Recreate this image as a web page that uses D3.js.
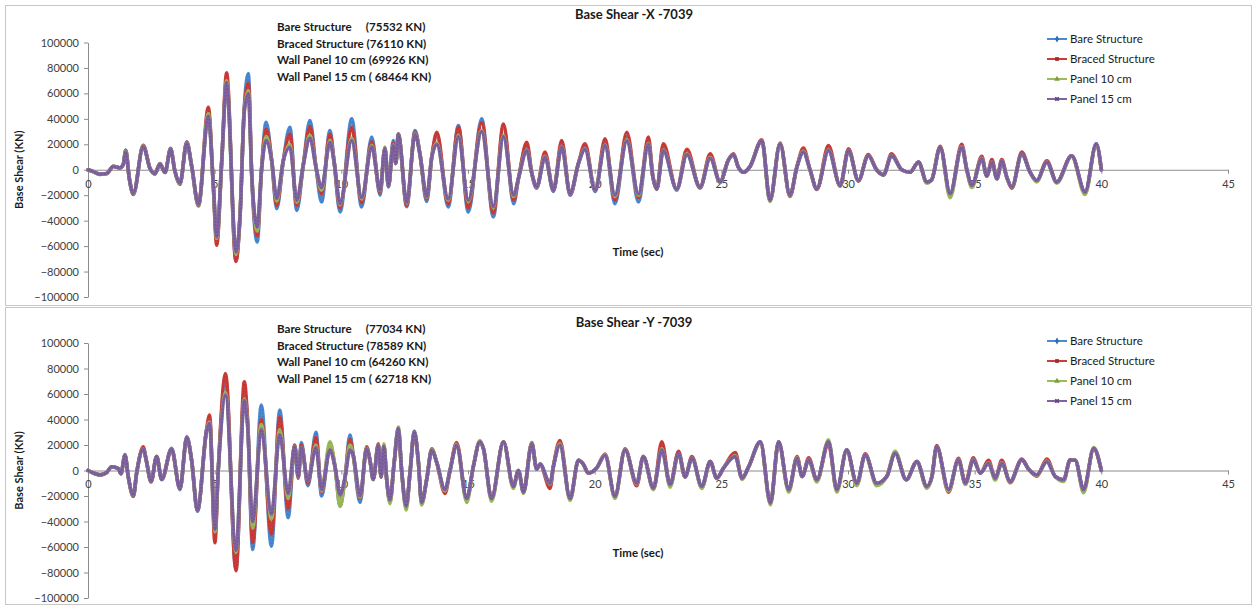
<!DOCTYPE html>
<html>
<head>
<meta charset="utf-8">
<script src="https://cdn.jsdelivr.net/npm/d3@7"></script>
<style>
  html, body { margin: 0; padding: 0; background: #fff; }
  svg { display: block; font-family: Lato, "Liberation Sans", sans-serif; }
  .note { white-space: pre; }
</style>
</head>
<body>
<script>
// ---- Base shear time histories, record 7039 (time in sec, shear in KN) ----

const seriesNames = ["Bare Structure", "Braced Structure", "Panel 10 cm", "Panel 15 cm"];
const seriesColors = ["#4a8ad0", "#cc3d3a", "#9bbb59", "#8064a2"];
const markerColors = ["#2f6db5", "#a52a28", "#7f9c40", "#5f4680"];
const xTicks = [0, 5, 10, 15, 20, 25, 30, 35, 40, 45];
const yTicks = [-100000, -80000, -60000, -40000, -20000, 0, 20000, 40000, 60000, 80000, 100000];

// X direction
const titleX = "Base Shear -X -7039";
const notesX = ["Bare Structure     (75532 KN)", "Braced Structure (76110 KN)",
                "Wall Panel 10 cm (69926 KN)", "Wall Panel 15 cm ( 68464 KN)"];
const timeX = [
  0, 0.21, 0.47, 0.74, 1.00, 1.26, 1.39, 1.49, 1.63, 1.79,
  2.18, 2.45, 2.64, 2.84, 3.04, 3.26, 3.43, 3.63, 3.90, 4.09,
  4.36, 4.75, 4.95, 5.08, 5.28, 5.47, 5.84, 6.00, 6.17, 6.33,
  6.46, 6.68, 6.85, 7.03, 7.25, 7.45, 7.71, 7.97, 8.24, 8.50,
  8.76, 9.00, 9.22, 9.55, 9.71, 9.95, 10.41, 10.80, 11.20, 11.53,
  11.72, 11.86, 12.05, 12.15, 12.25, 12.58, 12.91, 13.10, 13.37, 13.57,
  13.77, 14.22, 14.62, 15.01, 15.54, 16.00, 16.40, 16.80, 17.00, 17.32,
  17.52, 17.71, 18.04, 18.37, 18.70, 19.03, 19.36, 19.62, 20.02, 20.41,
  20.80, 21.27, 21.73, 22.12, 22.30, 22.45, 22.71, 23.24, 23.64, 24.16,
  24.56, 24.95, 25.28, 25.48, 25.67, 25.87, 26.13, 26.60, 26.92, 27.32,
  27.71, 27.98, 28.24, 28.50, 28.77, 29.23, 29.69, 30.02, 30.41, 30.80,
  31.13, 31.40, 31.72, 32.12, 32.45, 32.78, 33.11, 33.30, 33.64, 34.03,
  34.49, 34.69, 34.89, 35.28, 35.48, 35.68, 35.88, 36.07, 36.27, 36.47,
  36.86, 37.19, 37.45, 37.85, 38.24, 38.83, 39.36, 39.80, 40.00
];
const bareX = [
  0, -1500, -3600, -3000, 2800, 1500, 4200, 15500, -6500, -19500,
  19200, 800, -3500, 4800, -2200, 16800, -1000, -11500, 22000, 3000,
  -28500, 45000, -13600, -56000, 7300, 70000, -71000, -37000, 49000, 75532,
  -3000, -56700, 0, 37300, 7300, -30600, 7300, 33400, -32000, 4000,
  38600, 2000, -25400, 30800, 7000, -33200, 40000, -29300, 25600, -20000,
  17700, -13600, 23000, 5000, 28000, -29000, 30800, 12700, -25000, 10000,
  27000, -29300, 34700, -33200, 40000, -37000, 34000, -26700, -6000, 19000,
  -3000, -14500, 12000, -17000, 20000, -20000, 5000, 18000, -17000, 21000,
  -26700, 26000, -25400, 22000, -5800, -15500, 17000, -16000, 13000, -14500,
  10000, -10000, 7700, 12000, 2000, -2000, 2500, 23000, -24000, 20400,
  -20500, 2000, 14000, 0, -15000, 16000, -12300, 15000, -8400, 11000,
  0, -4000, 11000, 0, -2000, 6000, -9700, -8000, 17700, -19000,
  17700, 0, -12300, 8600, -5000, 6000, -7000, 7000, -6000, -13600,
  12500, -2000, -8400, 6000, -9700, 11000, -17500, 20400, 0
];
const bracedX = [
  0, -1500, -3500, -2900, 2700, 1600, 4000, 15000, -6800, -19300,
  19000, 1200, -3000, 4700, -2000, 16500, -1200, -11000, 21600, 3200,
  -28000, 49000, -14500, -59300, 6800, 76110, -72000, -36000, 48000, 68000,
  -2000, -52000, 500, 32000, 7500, -28000, 7000, 28000, -28000, 4000,
  34000, 2000, -18800, 28000, 7000, -30000, 33400, -26000, 22000, -18000,
  17000, -13000, 21000, 5000, 28000, -28000, 29500, 12700, -23000, 10000,
  29500, -27000, 33500, -30000, 37000, -34000, 36000, -24000, -6000, 21600,
  -3000, -14000, 14000, -16500, 23000, -19500, 5000, 20400, -16500, 24300,
  -24000, 29500, -22000, 25600, -5800, -15000, 20400, -15500, 16000, -14000,
  12500, -9500, 7700, 12500, 2000, -2000, 2500, 23500, -24500, 21000,
  -21000, 2000, 17000, 0, -15500, 19000, -13000, 16500, -9000, 12000,
  0, -4000, 12500, 0, -2000, 6000, -10000, -8000, 18500, -20000,
  20000, 0, -13000, 10500, -5000, 8000, -6500, 8000, -6000, -14500,
  14000, -2000, -9000, 7000, -9700, 11000, -18000, 19500, 0
];
const wall10X = [
  0, -1600, -3700, -3100, 2600, 1400, 4100, 14500, -6600, -18900,
  18600, 900, -3200, 4500, -2100, 16000, -1100, -10800, 21000, 2900,
  -27500, 44000, -13000, -54000, 7000, 69926, -66500, -36500, 47000, 62000,
  -2500, -48000, 0, 26000, 7300, -24500, 7000, 20000, -25500, 4000,
  27000, 2000, -16000, 23000, 7000, -27500, 25000, -23000, 19000, -16500,
  17000, -13000, 19500, 5000, 28000, -26500, 28500, 12700, -21500, 10000,
  21000, -24000, 27000, -25000, 31000, -30000, 27000, -21000, -6000, 15500,
  -3000, -13600, 10500, -16000, 18500, -18800, 5000, 16500, -16000, 19500,
  -21000, 23500, -20000, 20500, -5800, -15000, 15500, -15000, 12500, -13600,
  9500, -9500, 7700, 12000, 2000, -2000, 2500, 23000, -25000, 20400,
  -20500, 2000, 14500, 0, -15000, 15500, -12500, 15000, -8500, 11000,
  0, -4000, 11000, 0, -2000, 6000, -10500, -8000, 17500, -22000,
  18000, 0, -14000, 9000, -5000, 6000, -7500, 7000, -6000, -13600,
  12000, -2000, -9500, 6000, -10500, 10500, -19500, 20000, 0
];
const wall15X = [
  0, -1500, -3500, -3000, 2500, 1500, 4000, 14000, -7000, -18500,
  18200, 800, -3000, 4400, -2000, 15800, -1000, -10500, 20800, 3000,
  -27000, 42000, -12500, -52800, 7300, 68464, -64600, -37000, 46000, 59600,
  -3000, -45000, 0, 23000, 7300, -22600, 7300, 17700, -24000, 4000,
  25000, 2000, -14000, 21600, 7000, -26500, 23000, -22000, 18000, -16000,
  16500, -13000, 19000, 5000, 28000, -26000, 28000, 12700, -21000, 10000,
  20000, -23000, 26000, -24000, 30000, -29000, 26000, -20000, -6000, 15000,
  -3000, -13600, 9900, -16000, 18000, -18800, 5000, 16000, -16000, 19000,
  -20000, 22700, -19000, 20000, -5800, -15000, 15000, -15000, 12000, -13600,
  9000, -9500, 7700, 12000, 2000, -2000, 2500, 23000, -24000, 20400,
  -20000, 2000, 14000, 0, -15000, 15000, -12300, 15000, -8400, 11000,
  0, -4000, 11000, 0, -2000, 6000, -9700, -8000, 17700, -18800,
  17700, 0, -12300, 8600, -5000, 6000, -7000, 7000, -6000, -13600,
  12500, -2000, -8400, 6000, -9700, 11000, -17500, 20400, 0
];

// Y direction
const titleY = "Base Shear -Y -7039";
const notesY = ["Bare Structure     (77034 KN)", "Braced Structure (78589 KN)",
                "Wall Panel 10 cm (64260 KN)", "Wall Panel 15 cm ( 62718 KN)"];
const timeY = [
  0, 0.21, 0.47, 0.74, 0.93, 1.20, 1.30, 1.46, 1.59, 1.79,
  1.92, 2.18, 2.30, 2.49, 2.71, 2.91, 3.30, 3.63, 3.90, 4.09,
  4.32, 4.68, 4.80, 5.01, 5.14, 5.43, 5.84, 6.17, 6.30, 6.50,
  6.84, 7.24, 7.57, 7.90, 8.16, 8.30, 8.42, 8.68, 9.00, 9.22,
  9.55, 9.75, 9.95, 10.15, 10.34, 10.47, 10.74, 11.00, 11.13, 11.26,
  11.46, 11.57, 11.68, 11.79, 11.92, 12.08, 12.25, 12.38, 12.56, 12.71,
  12.88, 13.04, 13.17, 13.37, 13.57, 13.77, 14.09, 14.29, 14.55, 14.95,
  15.21, 15.47, 15.61, 15.93, 16.40, 16.79, 16.99, 17.19, 17.52, 17.71,
  17.84, 18.24, 18.37, 18.63, 19.03, 19.36, 19.55, 19.75, 20.08, 20.41,
  20.80, 21.20, 21.66, 21.92, 22.32, 22.65, 22.98, 23.31, 23.57, 23.84,
  24.23, 24.56, 24.82, 25.09, 25.55, 25.82, 26.08, 26.54, 26.94, 27.26,
  27.66, 27.99, 28.19, 28.45, 28.77, 29.23, 29.56, 29.95, 30.35, 30.68,
  31.13, 31.53, 31.86, 32.30, 32.72, 33.11, 33.31, 33.50, 33.97, 34.36,
  34.63, 34.95, 35.22, 35.55, 35.81, 36.07, 36.40, 36.86, 37.13, 37.45,
  37.85, 38.18, 38.51, 38.77, 38.97, 39.30, 39.70, 40.00
];
const bareY = [
  0, -2000, -3400, -1500, 3000, 1500, -2500, 12500, -5000, -20300,
  -2000, 17500, 8000, -8600, 11000, -7000, 17500, -15000, 26500, 8000,
  -32000, 31800, 40000, -50000, 0, 72000, -77034, 62000, 38000, -62000,
  51300, -59400, 47400, -37000, 19000, -5000, 22000, -12000, 30000, -20000,
  18000, 3000, -28000, -5000, 27900, 12000, -25000, 18000, 8000, -7000,
  20000, -5000, 19000, -7000, -25000, 5000, 33100, 0, -29000, -2000,
  30500, 7000, -26000, -7000, 16000, 6000, -16000, 0, 20000, -23000,
  3000, 23000, 17000, -22500, 22600, -13000, 0, -17000, 21000, 1000,
  5000, -11000, 3000, 20000, -22000, 8000, 5000, -2000, 2000, 12000,
  -21000, 16200, -10000, 11000, -14000, 18000, -11500, 13500, -5000, 9600,
  -12500, 7000, -6000, 2000, 11000, -6000, 3000, 22600, -25500, 22600,
  -15000, 9600, -4700, 8300, -7300, 22600, -15000, 16200, -10000, 12300,
  -10000, -4700, 13500, -7300, 7000, -12500, -5000, 18700, -15000, 8300,
  -10000, 8300, -2000, 5700, -6000, 5700, -8600, 8300, 1000, -3400,
  7000, -4700, -7300, 8300, 8000, -15000, 17400, 0
];
const bracedY = [
  0, -2000, -3400, -1500, 3000, 1500, -2500, 12000, -5000, -20000,
  -2000, 18500, 8000, -9000, 11000, -7000, 16000, -14000, 25500, 8000,
  -31000, 32000, 43500, -56700, 0, 76000, -78589, 69500, 40000, -56700,
  40000, -50000, 42000, -30000, 20000, -6000, 20000, -10000, 26000, -17000,
  20000, 3000, -24000, -5000, 24000, 12000, -22000, 18500, 8000, -7000,
  21000, -5000, 20000, -7000, -24000, 5000, 31000, 0, -28000, -2000,
  29000, 7000, -25000, -7000, 17000, 6000, -18000, 0, 22000, -22500,
  3000, 22600, 17000, -22000, 22600, -12500, 0, -16500, 22000, 1000,
  5000, -14000, 3000, 23500, -22500, 8000, 5000, -2000, 2000, 13000,
  -20500, 17000, -12000, 11000, -14500, 22600, -12000, 15000, -5000, 11000,
  -13500, 7000, -6000, 2000, 14000, -6000, 3000, 22000, -25000, 22600,
  -15500, 11000, -4700, 10000, -8000, 21000, -15500, 16000, -11000, 13000,
  -10500, -4700, 14000, -7300, 7000, -13000, -5000, 19500, -17000, 9500,
  -9500, 10000, -2000, 8000, -6500, 8000, -9500, 9000, 1000, -4500,
  9000, -4700, -8000, 8300, 8000, -15500, 17000, 0
];
const wall10Y = [
  0, -2000, -3400, -1500, 3000, 1500, -2500, 12000, -5000, -19500,
  -2000, 17000, 8000, -8500, 11000, -7000, 17000, -14500, 26000, 8000,
  -31500, 31000, 38000, -48000, 0, 61000, -64260, 56000, 36000, -45000,
  36000, -38000, 32000, -22000, 19000, -5000, 18000, -8000, 20000, -16000,
  22600, 3000, -28000, -5000, 20000, 12000, -21000, 17500, 8000, -7000,
  20000, -5000, 21000, -7000, -26000, 5000, 34000, 0, -31000, -2000,
  31000, 7000, -27000, -7000, 16500, 6000, -16000, 0, 20500, -25000,
  3000, 23500, 17000, -24000, 22600, -14000, 0, -18000, 21500, 1000,
  5000, -10500, 3000, 21000, -23500, 8000, 5000, -2000, 2000, 12500,
  -22000, 16500, -10500, 11000, -15000, 17000, -13000, 13000, -5000, 9500,
  -14000, 7000, -6000, 2000, 11500, -7000, 3000, 22000, -27000, 22600,
  -17000, 10000, -4700, 8500, -9000, 24000, -17000, 16500, -12000, 12500,
  -12000, -4700, 15000, -7300, 7000, -14000, -5000, 18500, -16000, 8500,
  -11000, 8500, -2000, 6000, -7500, 6000, -9000, 8000, 1000, -4000,
  7500, -4700, -8500, 8300, 8000, -17500, 18000, 0
];
const wall15Y = [
  0, -2000, -3400, -1500, 3000, 1500, -2500, 12000, -5000, -19500,
  -2000, 17000, 8000, -8500, 11000, -7000, 17000, -14500, 26000, 8000,
  -31500, 31000, 37000, -46300, 0, 59100, -62718, 55000, 35000, -40000,
  32000, -34000, 28000, -18000, 19000, -5000, 18000, -8000, 18000, -15000,
  16000, 3000, -19000, -5000, 16000, 12000, -20000, 17000, 8000, -7000,
  20000, -5000, 19000, -7000, -23000, 5000, 33100, 0, -28000, -2000,
  30500, 7000, -25000, -7000, 16000, 6000, -15000, 0, 20000, -22000,
  3000, 22600, 17000, -22000, 22600, -12500, 0, -17000, 21000, 1000,
  5000, -10000, 3000, 20000, -22000, 8000, 5000, -2000, 2000, 12000,
  -20300, 16200, -10000, 11000, -13800, 16200, -11000, 13500, -5000, 9600,
  -12500, 7000, -6000, 2000, 11000, -6000, 3000, 22600, -25500, 22600,
  -15000, 9600, -4700, 8300, -7300, 22600, -15000, 16200, -10000, 12300,
  -10000, -4700, 13500, -7300, 7000, -12500, -5000, 18700, -15000, 8300,
  -10000, 8300, -2000, 5700, -6000, 5700, -8600, 8300, 1000, -3400,
  7000, -4700, -7300, 8300, 8000, -15000, 17400, 0
];

// ---- layout ----
const W = 1254, H = 606;
const panels = [
  { title: titleX, notes: notesX, time: timeX, values: [bareX, bracedX, wall10X, wall15X],
    frameTop: 5.5, frameH: 300, yTop: 42.5, yBot: 297, titleY: 19, noteY: 31, legendY: 39 },
  { title: titleY, notes: notesY, time: timeY, values: [bareY, bracedY, wall10Y, wall15Y],
    frameTop: 307.5, frameH: 297, yTop: 343, yBot: 598, titleY: 327, noteY: 333, legendY: 341 }
];

const svg = d3.select("body").append("svg").attr("width", W).attr("height", H);
svg.append("rect").attr("width", W).attr("height", H).attr("fill", "#fff");

const x = d3.scaleLinear().domain([0, 45]).range([88, 1228]);
const symbols = [d3.symbolDiamond, d3.symbolSquare, d3.symbolTriangle, d3.symbolCross];
const font = "Lato, 'Liberation Sans', sans-serif";

panels.forEach(p => {
  const g = svg.append("g");
  const y = d3.scaleLinear().domain([-100000, 100000]).range([p.yBot, p.yTop]);

  // chart frame
  g.append("rect")
    .attr("x", 5.5).attr("y", p.frameTop).attr("width", W - 8).attr("height", p.frameH)
    .attr("fill", "none").attr("stroke", "#c8c8c8").attr("stroke-width", 1);

  // value axis
  const ya = g.append("g").attr("transform", `translate(${x(0)},0)`)
    .call(d3.axisLeft(y).tickValues(yTicks).tickSize(4).tickSizeOuter(0).tickPadding(5).tickFormat(d3.format("d")));
  ya.select(".domain").attr("stroke", "#8c8c8c");
  ya.selectAll(".tick line").attr("stroke", "#8c8c8c");
  ya.selectAll(".tick text").attr("fill", "#404040").style("font-size", "11px").style("font-family", font);

  // time axis crossing at zero
  const xa = g.append("g").attr("transform", `translate(0,${y(0)})`)
    .call(d3.axisBottom(x).tickValues(xTicks).tickSize(4).tickSizeOuter(0).tickPadding(6));
  xa.select(".domain").attr("stroke", "#8c8c8c");
  xa.selectAll(".tick line").attr("stroke", "#8c8c8c");
  xa.selectAll(".tick text").attr("fill", "#404040").style("font-size", "11px").style("font-family", font);

  // series, drawn in order so the last one sits on top; a dotted core gives the beaded marker look
  const line = d3.line().x(d => x(d[0])).y(d => y(d[1])).curve(d3.curveMonotoneX);
  p.values.forEach((vals, i) => {
    if (vals.length !== p.time.length) console.warn("length mismatch", p.title, i);
    const pts = p.time.map((t, k) => [t, vals[k]]);
    const s = g.append("g");
    s.append("path").datum(pts)
      .attr("d", line)
      .attr("fill", "none")
      .attr("stroke", seriesColors[i])
      .attr("stroke-width", 3.6)
      .attr("stroke-linejoin", "round")
      .attr("stroke-linecap", "round");
    s.append("path").datum(pts)
      .attr("d", line)
      .attr("fill", "none")
      .attr("stroke", markerColors[i])
      .attr("stroke-width", 1.4)
      .attr("stroke-opacity", 0.55)
      .attr("stroke-dasharray", "1.2 2.2");
  });

  // title
  g.append("text").attr("x", 634).attr("y", p.titleY).attr("text-anchor", "middle")
    .style("font-weight", "bold").style("font-size", "13px").attr("fill", "#1a1a1a").text(p.title);

  // peak notes
  g.selectAll("text.note").data(p.notes).join("text")
    .attr("class", "note")
    .attr("x", 277).attr("y", (d, i) => p.noteY + i * 16.7)
    .style("font-weight", "bold").style("font-size", "11.6px").attr("fill", "#1a1a1a")
    .text(d => d);

  // axis titles
  g.append("text").attr("x", 638).attr("y", y(0) + 86).attr("text-anchor", "middle")
    .style("font-weight", "bold").style("font-size", "11.5px").attr("fill", "#1a1a1a").text("Time (sec)");
  g.append("text")
    .attr("transform", `translate(23,${y(0)}) rotate(-90)`)
    .attr("text-anchor", "middle")
    .style("font-weight", "bold").style("font-size", "11px").attr("fill", "#1a1a1a").text("Base Shear (KN)");

  // legend
  const lg = g.append("g");
  seriesNames.forEach((name, i) => {
    const ly = p.legendY + i * 20;
    lg.append("line").attr("x1", 1047).attr("x2", 1067).attr("y1", ly).attr("y2", ly)
      .attr("stroke", seriesColors[i]).attr("stroke-width", 2);
    lg.append("path").attr("d", d3.symbol(symbols[i], 14)())
      .attr("transform", `translate(1057,${ly})${i === 3 ? " rotate(45)" : ""}`)
      .attr("fill", markerColors[i]);
    lg.append("text").attr("x", 1070).attr("y", ly + 4)
      .style("font-size", "11.5px").attr("fill", "#1a1a1a").text(name);
  });
});
</script>
</body>
</html>
